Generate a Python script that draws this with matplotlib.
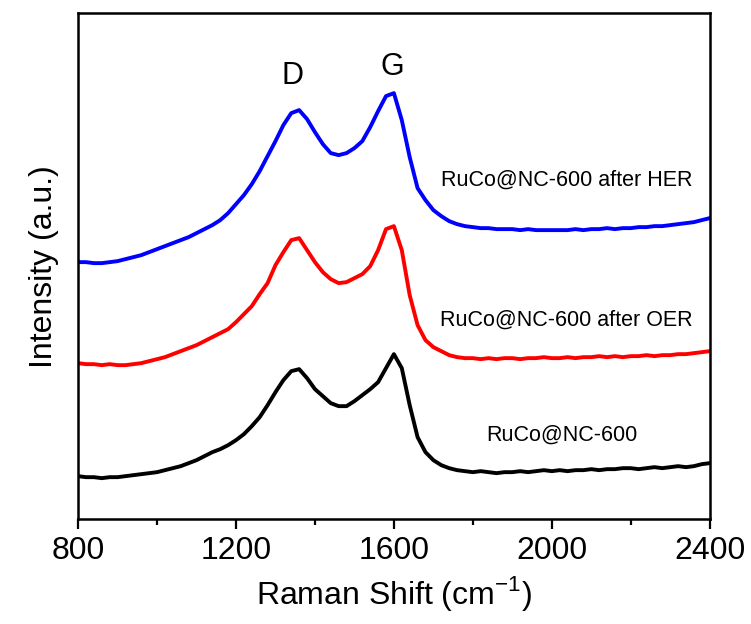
import matplotlib
matplotlib.use("Agg")
import matplotlib.pyplot as plt
from matplotlib.ticker import MultipleLocator

plt.rcParams["font.family"] = ["Liberation Sans", "DejaVu Sans"]
plt.rcParams["mathtext.fontset"] = "custom"
plt.rcParams["mathtext.rm"] = "Liberation Sans"

# Raman shift (cm-1), shared by the three spectra
shift = [800, 820, 840, 860, 880, 900, 920, 940, 960, 980,
         1000, 1020, 1040, 1060, 1080, 1100, 1120, 1140, 1160, 1180,
         1200, 1220, 1240, 1260, 1280, 1300, 1320, 1340, 1360, 1380,
         1400, 1420, 1440, 1460, 1480, 1500, 1520, 1540, 1560, 1580,
         1600, 1620, 1640, 1660, 1680, 1700, 1720, 1740, 1760, 1780,
         1800, 1820, 1840, 1860, 1880, 1900, 1920, 1940, 1960, 1980,
         2000, 2020, 2040, 2060, 2080, 2100, 2120, 2140, 2160, 2180,
         2200, 2220, 2240, 2260, 2280, 2300, 2320, 2340, 2360, 2380,
         2400]

# intensidades (a.u., con desplazamiento vertical)
ruco_600 = [43, 42, 42, 41, 42, 42, 43, 44, 45, 46,
            47, 49, 51, 53, 56, 59, 63, 67, 70, 74,
            79, 85, 93, 102, 114, 127, 139, 148, 150, 141,
            130, 123, 116, 113, 113, 118, 124, 130, 137, 151,
            165, 151, 114, 82, 67, 59, 54, 51, 49, 48,
            47, 48, 47, 46, 47, 47, 48, 47, 48, 49,
            48, 49, 48, 49, 49, 50, 49, 50, 50, 51,
            51, 50, 51, 52, 51, 52, 53, 52, 53, 55,
            56]

ruco_oer = [156, 155, 155, 154, 155, 154, 154, 155, 156, 158,
            160, 162, 165, 168, 171, 174, 178, 182, 186, 190,
            197, 205, 213, 225, 236, 254, 267, 279, 281, 269,
            257, 247, 240, 236, 237, 241, 245, 253, 269, 290,
            293, 269, 224, 194, 179, 172, 168, 164, 162, 161,
            161, 160, 161, 160, 161, 161, 160, 161, 161, 162,
            161, 161, 162, 161, 162, 162, 163, 162, 163, 162,
            163, 163, 164, 163, 164, 164, 165, 165, 166, 167,
            168]

ruco_her = [257, 257, 256, 256, 257, 258, 260, 262, 264, 267,
            270, 273, 276, 279, 282, 286, 290, 294, 299, 306,
            315, 324, 335, 348, 363, 378, 394, 406, 409, 400,
            387, 375, 366, 364, 366, 371, 378, 392, 408, 423,
            426, 399, 362, 331, 319, 309, 303, 298, 295, 293,
            292, 291, 291, 290, 290, 290, 289, 290, 289, 289,
            289, 289, 289, 290, 289, 290, 290, 291, 290, 291,
            291, 292, 292, 293, 293, 294, 295, 296, 297, 299,
            301]

series = [ruco_600, ruco_oer, ruco_her]
colors = ["black", "red", "blue"]
labels = ["RuCo@NC-600", "RuCo@NC-600 after OER", "RuCo@NC-600 after HER"]
label_pos = [(2025, 84), (2038, 199), (2038, 339)]

fig = plt.figure(figsize=(7.51, 6.24), dpi=100)
ax = fig.add_axes([0.104, 0.168, 0.841, 0.811])

for y, c in zip(series, colors):
    ax.plot(shift, y, color=c, lw=2.8, solid_joinstyle="round")

for (xt, yt), txt in zip(label_pos, labels):
    ax.text(xt, yt, txt, ha="center", va="center", fontsize=15.5)

ax.text(1344, 443, "D", ha="center", va="center", fontsize=22)
ax.text(1595, 452, "G", ha="center", va="center", fontsize=22)

ax.set_xlim(800, 2400)
ax.set_ylim(0, 506)
ax.xaxis.set_major_locator(MultipleLocator(400))
ax.xaxis.set_minor_locator(MultipleLocator(200))
ax.set_yticks([])
ax.tick_params(axis="x", which="major", direction="out", length=7, width=1.6,
               labelsize=23, pad=5, top=False)
ax.tick_params(axis="x", which="minor", direction="out", length=4.5, width=1.6, top=False)
for s in ax.spines.values():
    s.set_linewidth(1.8)

ax.set_xlabel("Raman Shift (cm$^{-1}$)", fontsize=23, labelpad=6)
ax.set_ylabel("Intensity (a.u.)", fontsize=23, labelpad=14)

fig.savefig("out.png", dpi=100)
